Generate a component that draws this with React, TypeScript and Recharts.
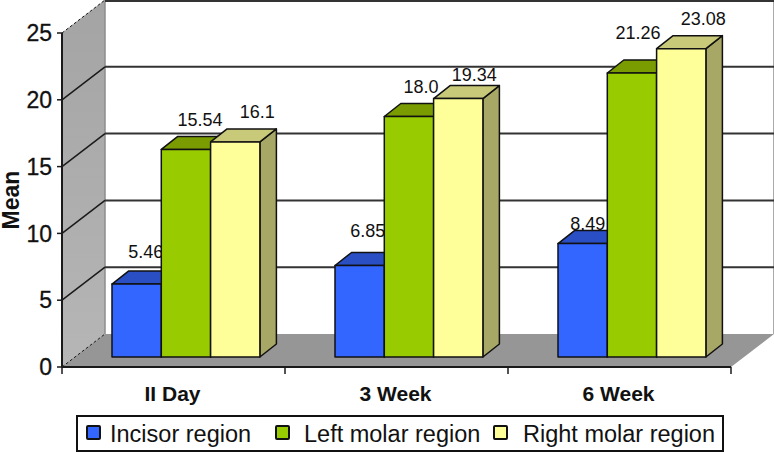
import { BarChart, Bar, XAxis, YAxis, Legend } from "recharts";

const categories = ["II Day", "3 Week", "6 Week"];
const incisor = [5.46, 6.85, 8.49];
const leftMolar = [15.54, 18.0, 21.26];
const rightMolar = [16.1, 19.34, 23.08];
const yTicks = [0, 5, 10, 15, 20, 25];

// the values as printed above the bars
const incisorText = ["5.46", "6.85", "8.49"];
const leftText = ["15.54", "18.0", "21.26"];
const rightText = ["16.1", "19.34", "23.08"];

const data = categories.map((name, i) => ({
  name,
  incisor: incisor[i],
  leftMolar: leftMolar[i],
  rightMolar: rightMolar[i],
}));

const W = 774;
const H = 453;
const AXIS_W = 62;
const AXIS_H = 40;
const M = { top: 33, right: 43, bottom: 86 - AXIS_H, left: 0 };
const plotW = W - AXIS_W - M.right;
const plotH = H - M.top - M.bottom - AXIS_H;
const bottom = M.top + plotH;
const yAt = (v: number) => bottom - (v / 25) * plotH;

// 3d look: depth of the box and of each bar
const BOX_DX = 43;
const BOX_DY = 33;
const BAR_DX = 16.5;
const BAR_DY = 13;
const SHIFT_X = 12;
const SHIFT_Y = -10;
const LINE = "#1a1a1a";
const FONT = "'Liberation Sans', Arial, sans-serif";

function Walls() {
  const l = AXIS_W;
  const r = AXIS_W + plotW;
  return (
    <g>
      <defs>
        <linearGradient id="sideWall" x1="0" y1="0" x2="0" y2="1">
          <stop offset="0" stopColor="#a4a4a4" />
          <stop offset="1" stopColor="#b6b6b6" />
        </linearGradient>
      </defs>
      <polygon
        points={`${l},${bottom} ${l},${M.top} ${l + BOX_DX},${M.top - BOX_DY} ${l + BOX_DX},${bottom - BOX_DY}`}
        fill="url(#sideWall)"
      />
      <polygon
        points={`${l},${bottom} ${l + BOX_DX},${bottom - BOX_DY} ${r + BOX_DX},${bottom - BOX_DY} ${r},${bottom}`}
        fill="#969696"
      />
      <line x1={l + BOX_DX} x2={l + BOX_DX} y1={M.top - BOX_DY} y2={bottom - BOX_DY} stroke="#8c8c8c" strokeWidth={1.5} />
      <line x1={r + BOX_DX - 0.5} x2={r + BOX_DX - 0.5} y1={M.top - BOX_DY} y2={bottom - BOX_DY} stroke="#aaa" strokeWidth={1} />
      {yTicks.map((t) => {
        const y = yAt(t);
        const faint = t === 0 || t === 25;
        const backY = y - BOX_DY + (t === 25 ? 1 : 0);
        return (
          <g key={t}>
            <line
              x1={l}
              y1={y}
              x2={l + BOX_DX}
              y2={y - BOX_DY}
              stroke={LINE}
              strokeWidth={faint ? 1 : 1.5}
              strokeDasharray={faint ? "3 2" : undefined}
            />
            {t !== 0 && <line x1={l + BOX_DX} y1={backY} x2={r + BOX_DX} y2={backY} stroke="#333" strokeWidth={2} />}
          </g>
        );
      })}
      {/* the ticks of the category axis sit between the categories */}
      {[0, 1, 2, 3].map((i) => {
        const x = l + (i * plotW) / categories.length;
        return <line key={i} x1={x} x2={x} y1={bottom} y2={bottom + 7} stroke={LINE} strokeWidth={1.5} />;
      })}
    </g>
  );
}

// how far each printed value sits from its bar, per series and category
const incisorNudge = [[9, -31], [8, -33], [5, -18]];
const leftNudge = [[14, -28], [12, -28], [6, -39]];
const rightNudge = [[22, -29], [16, -22], [22, -28]];

function Bar3D(props: any) {
  const { x, y, width, height, fill, topFill, sideFill, index, texts, nudges } = props;
  const X = x + SHIFT_X;
  const Y = y + SHIFT_Y;
  const R = X + width;
  const B = Y + height;
  return (
    <g>
      <g stroke="#111" strokeWidth={1.5} strokeLinejoin="round">
        <polygon points={`${R},${Y} ${R + BAR_DX},${Y - BAR_DY} ${R + BAR_DX},${B - BAR_DY} ${R},${B}`} fill={sideFill} />
        <polygon points={`${X},${Y} ${X + BAR_DX},${Y - BAR_DY} ${R + BAR_DX},${Y - BAR_DY} ${R},${Y}`} fill={topFill} />
        <rect x={X} y={Y} width={width} height={height} fill={fill} />
      </g>
      <text
        x={X + width / 2 + nudges[index][0]}
        y={Y + nudges[index][1]}
        textAnchor="middle"
        dominantBaseline="middle"
        fontFamily={FONT}
        fontSize={18}
        fill="#111"
      >
        {texts[index]}
      </text>
    </g>
  );
}

const legendItems = [
  { name: "Incisor region", color: "#3366ff", iconX: 10, textX: 34 },
  { name: "Left molar region", color: "#99cc00", iconX: 199, textX: 228 },
  { name: "Right molar region", color: "#ffff99", iconX: 417, textX: 447 },
];

function LegendBox() {
  return (
    <div
      style={{
        position: "relative",
        boxSizing: "border-box",
        width: 648,
        height: 37,
        border: "2px solid #111",
        background: "#fff",
        fontFamily: FONT,
        fontSize: 23.5,
        color: "#111",
      }}
    >
      {legendItems.map((it) => (
        <span key={it.name}>
          <span
            style={{
              position: "absolute",
              left: it.iconX - 2,
              top: 8,
              width: 11,
              height: 11,
              background: it.color,
              border: "2px solid #111",
              borderRadius: 2,
            }}
          />
          <span style={{ position: "absolute", left: it.textX - 2, top: 3, whiteSpace: "nowrap", lineHeight: "28px" }}>
            {it.name}
          </span>
        </span>
      ))}
    </div>
  );
}

export default function App() {
  return (
    <div style={{ position: "absolute", left: 0, top: 0, width: W, height: H, background: "#fff" }}>
      <BarChart width={W} height={H} data={data} margin={M} barSize={49.3} barGap={0}>
        <Walls />
        <XAxis
          dataKey="name"
          height={AXIS_H}
          axisLine={{ stroke: LINE, strokeWidth: 2 }}
          tickLine={false}
          interval={0}
          tick={{ fontFamily: FONT, fontSize: 21, fontWeight: 700, fill: "#111", dy: 11, dx: -1 }}
        />
        <YAxis
          domain={[0, 25]}
          ticks={yTicks}
          width={AXIS_W}
          axisLine={{ stroke: LINE, strokeWidth: 2 }}
          tickLine={{ stroke: LINE, strokeWidth: 1.5 }}
          tickSize={5}
          tick={{ fontFamily: FONT, fontSize: 23, fill: "#111", stroke: "#111", strokeWidth: 0.3, dx: -3 }}
          label={{
            value: "Mean",
            angle: -90,
            position: "insideLeft",
            dx: 6,
            dy: 0,
            style: { fontFamily: FONT, fontSize: 23, fontWeight: 700, fill: "#111", textAnchor: "middle" },
          }}
        />
        <Legend
          content={<LegendBox />}
          verticalAlign="middle"
          wrapperStyle={{ left: 76, top: 415, width: 648, height: 37 }}
        />
        <Bar dataKey="incisor" name="Incisor region" fill="#3366ff" isAnimationActive={false}
          shape={(p: any) => <Bar3D {...p} topFill="#2a4fc4" sideFill="#2a4fc4" texts={incisorText} nudges={incisorNudge} />} />
        <Bar dataKey="leftMolar" name="Left molar region" fill="#99cc00" isAnimationActive={false}
          shape={(p: any) => <Bar3D {...p} topFill="#7a9c00" sideFill="#7a9c00" texts={leftText} nudges={leftNudge} />} />
        <Bar dataKey="rightMolar" name="Right molar region" fill="#ffff99" isAnimationActive={false}
          shape={(p: any) => <Bar3D {...p} topFill="#c9c97a" sideFill="#a8a866" texts={rightText} nudges={rightNudge} />} />
      </BarChart>
    </div>
  );
}
